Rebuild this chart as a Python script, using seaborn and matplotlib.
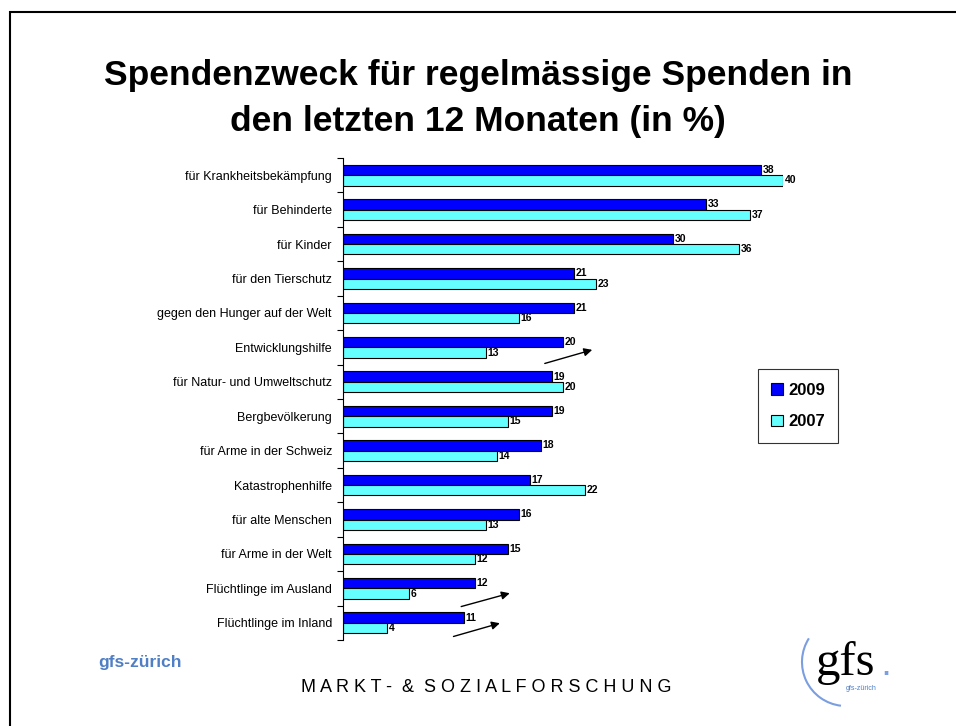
import matplotlib
matplotlib.use('AGG')
import matplotlib.pyplot as plt
from matplotlib.patches import Arc, Rectangle
import seaborn as sns
import pandas as pd
import numpy as np

# data
categories = [
    'für Krankheitsbekämpfung', 'für Behinderte', 'für Kinder', 'für den Tierschutz',
    'gegen den Hunger auf der Welt', 'Entwicklungshilfe', 'für Natur- und Umweltschutz',
    'Bergbevölkerung', 'für Arme in der Schweiz', 'Katastrophenhilfe',
    'für alte Menschen', 'für Arme in der Welt', 'Flüchtlinge im Ausland',
    'Flüchtlinge im Inland',
]
values_2009 = [38, 33, 30, 21, 21, 20, 19, 19, 18, 17, 16, 15, 12, 11]
values_2007 = [40, 37, 36, 23, 16, 13, 20, 15, 14, 22, 13, 12, 6, 4]
years = ['2009', '2007']

df = pd.DataFrame({
    'Zweck': categories * 2,
    'Jahr': [years[0]] * len(categories) + [years[1]] * len(categories),
    'Prozent': values_2009 + values_2007,
})

sns.set_style('white')
plt.rcParams['font.family'] = ['Liberation Sans', 'DejaVu Sans']
plt.rcParams['text.color'] = 'black'
plt.rcParams['ytick.color'] = 'black'
plt.rcParams['axes.labelcolor'] = 'black'

fig = plt.figure(figsize=(9.56, 7.26), dpi=100)
ax = fig.add_axes([343 / 956, 1 - 640 / 726, 440 / 956, (640 - 158) / 726])

sns.barplot(data=df, y='Zweck', x='Prozent', hue='Jahr', order=categories,
            hue_order=years, palette=['#0000FF', '#66FFFF'], saturation=1, orient='h',
            width=0.6, edgecolor='black', linewidth=0.8, ax=ax)

for cont in ax.containers:
    ax.bar_label(cont, padding=1, fontsize=7.5, fontweight='bold')

ax.set_xlim(0, 40)
ax.set_ylim(len(categories) - 0.5, -0.5)
ax.set_xlabel('')
ax.set_ylabel('')
ax.xaxis.set_visible(False)
for s in ['top', 'right', 'bottom']:
    ax.spines[s].set_visible(False)
ax.spines['left'].set_color('black')
ax.spines['left'].set_linewidth(0.8)
ax.tick_params(axis='y', which='major', left=False, length=0, labelsize=9, pad=8)
ax.set_yticks(np.arange(len(categories) + 1) - 0.5, minor=True)
ax.tick_params(axis='y', which='minor', left=True, length=4, width=0.8,
               color='black', direction='out')

# trend arrows
arrow = dict(arrowstyle='-|>', color='black', lw=1, mutation_scale=12)
ax.annotate('', xy=(22.9, 5.05), xytext=(18.1, 5.49), arrowprops=arrow, annotation_clip=False)
ax.annotate('', xy=(15.4, 12.12), xytext=(10.5, 12.55), arrowprops=arrow, annotation_clip=False)
ax.annotate('', xy=(14.5, 12.99), xytext=(9.8, 13.42), arrowprops=arrow, annotation_clip=False)

leg = ax.legend(loc='center', bbox_to_anchor=(798 / 956, 1 - 406 / 726),
                bbox_transform=fig.transFigure, frameon=True, fancybox=False,
                prop={'weight': 'bold', 'size': 12}, handlelength=0.7, handleheight=0.7,
                handletextpad=0.3, labelspacing=1.0, borderpad=0.8)
leg.get_frame().set_edgecolor('black')
leg.get_frame().set_linewidth(0.8)
for h in leg.legend_handles:
    h.set_edgecolor('black')

fig.text(0.5, 1 - 76 / 726, 'Spendenzweck für regelmässige Spenden in',
         ha='center', va='center', fontsize=25.5, fontweight='bold')
fig.text(0.5, 1 - 122 / 726, 'den letzten 12 Monaten (in %)',
         ha='center', va='center', fontsize=25.5, fontweight='bold')

fig.text(98 / 956, 1 - 662 / 726, 'gfs-zürich', ha='left', va='center',
         fontsize=12.5, fontweight='bold', color='#4f7fc4')
fig.text(486 / 956, 1 - 688 / 726, 'M A R K T -  &  S O Z I A L F O R S C H U N G',
         ha='center', va='center', fontsize=13)

# logo
fig.patches.append(Arc((846 / 956, 1 - 662 / 726), 88 / 956, 88 / 726, theta1=140, theta2=265,
                       transform=fig.transFigure, color='#7a9ee0', lw=1.5))
fig.text(846 / 956, 1 - 675 / 726, 'gfs', ha='center', va='baseline',
         fontsize=35, family='Liberation Serif')
fig.text(886 / 956, 1 - 675 / 726, '.', ha='center', va='baseline', fontsize=18,
         color='#7a9ee0', fontweight='bold')
fig.text(861 / 956, 1 - 689 / 726, 'gfs-zürich', ha='center', va='center',
         fontsize=5, color='#4f7fc4')

# slide frame
fig.patches.append(Rectangle((10 / 956, -0.5), 2, 0.5 + 1 - 12 / 726, fill=False,
                             lw=1.5, edgecolor='black', transform=fig.transFigure))

fig.savefig('out.png', dpi=100)
